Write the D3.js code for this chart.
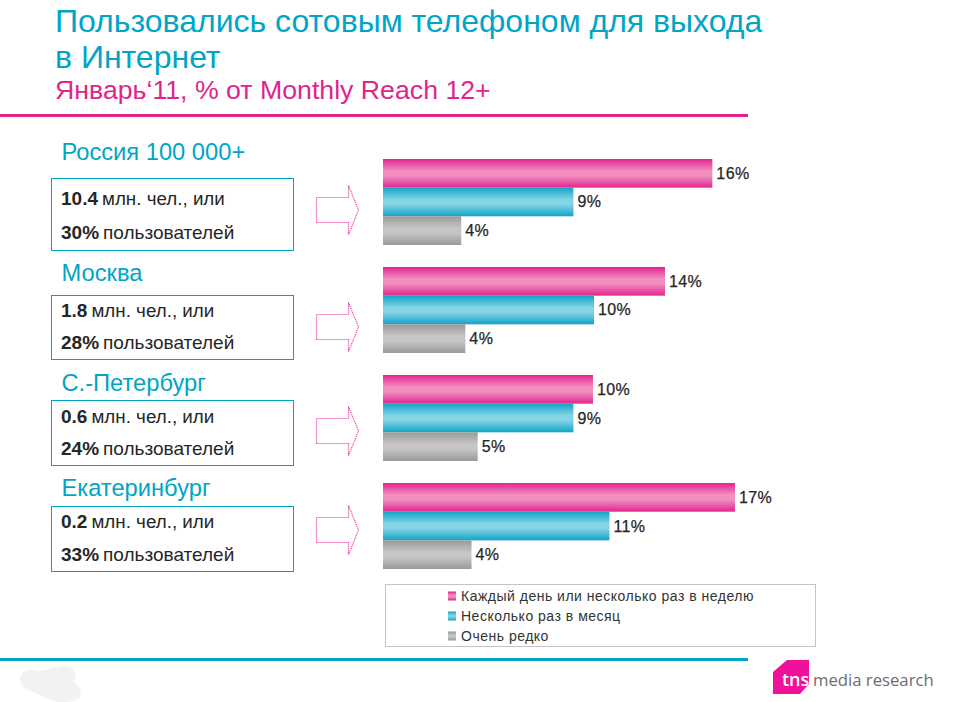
<!DOCTYPE html>
<html>
<head>
<meta charset="utf-8">
<script src="https://cdn.jsdelivr.net/npm/d3@7"></script>
<style>
  html, body { margin: 0; padding: 0; background: #fff; }
  text { font-family: "Liberation Sans", Arial, sans-serif; }
</style>
</head>
<body>
<svg id="chart" width="954" height="702"></svg>
<script>
// values
var regions = ['Россия 100 000+', 'Москва', 'С.-Петербург', 'Екатеринбург'];
var seriesNames = ['Каждый день или несколько раз в неделю', 'Несколько раз в месяц', 'Очень редко'];
var daily = [16.0, 13.7, 10.2, 17.1];
var monthly = [9.25, 10.25, 9.25, 11.0];
var rarely = [3.8, 4.0, 4.6, 4.3];
var dailyLabels = ['16%', '14%', '10%', '17%'];
var monthlyLabels = ['9%', '10%', '9%', '11%'];
var rarelyLabels = ['4%', '4%', '5%', '4%'];
var audience = ['10.4', '1.8', '0.6', '0.2'];
var audienceShare = ['30%', '28%', '24%', '33%'];

var colours = [
  { id: 'pink', dark: '#e0258e', light: '#f28fc0' },
  { id: 'blue', dark: '#12a4c8', light: '#84d4e5' },
  { id: 'grey', dark: '#999999', light: '#c6c6c6' }
];

// layout of the text panels on the left, one row per region
var titleY = [160, 281, 391, 496];
var boxTop = [178, 295, 400, 506];
var boxHeight = [72, 64, 65, 65];
var line1Y = [205, 317, 423, 528];
var line2Y = [239, 349, 455, 561];
var arrowMid = [210, 327, 431, 530];

var svg = d3.select('#chart');
var defs = svg.append('defs');

colours.forEach(function(c) {
  var g = defs.append('linearGradient')
    .attr('id', c.id)
    .attr('x1', 0).attr('y1', 0).attr('x2', 0).attr('y2', 1);
  g.append('stop').attr('offset', '0%').attr('stop-color', c.dark);
  g.append('stop').attr('offset', '42%').attr('stop-color', c.light);
  g.append('stop').attr('offset', '58%').attr('stop-color', c.light);
  g.append('stop').attr('offset', '100%').attr('stop-color', c.dark);
});

// header
var title = svg.append('g');
title.append('text').attr('x', 55).attr('y', 32)
  .attr('fill', '#00a5c6').attr('font-size', 32)
  .text('Пользовались сотовым телефоном для выхода');
title.append('text').attr('x', 55).attr('y', 68)
  .attr('fill', '#00a5c6').attr('font-size', 32)
  .text('в Интернет');
title.append('text').attr('x', 55).attr('y', 99)
  .attr('fill', '#e2238c').attr('font-size', 26.7)
  .text('Январь‘11, % от Monthly Reach 12+');

svg.append('rect').attr('x', 0).attr('y', 114).attr('width', 748).attr('height', 3).attr('fill', '#e2238c');
svg.append('rect').attr('x', 0).attr('y', 658).attr('width', 748).attr('height', 3).attr('fill', '#00a5c6');

// scales
var x = d3.scaleLinear().domain([0, 17.1]).range([383, 735]);
var y = d3.scaleBand().domain(regions).range([159, 569]).paddingInner(0.204);
var inner = d3.scaleBand().domain(seriesNames).range([0, y.bandwidth()]);

var seriesValues = [daily, monthly, rarely];
var seriesLabels = [dailyLabels, monthlyLabels, rarelyLabels];

// bars and value labels
seriesNames.forEach(function(name, s) {
  var bars = svg.append('g').attr('class', 'series');
  bars.selectAll('rect')
    .data(regions)
    .enter()
    .append('rect')
    .attr('x', x(0))
    .attr('y', function(d) { return y(d) + inner(name); })
    .attr('width', function(d, i) { return x(seriesValues[s][i]) - x(0); })
    .attr('height', inner.bandwidth())
    .attr('fill', 'url(#' + colours[s].id + ')');
  bars.selectAll('text')
    .data(regions)
    .enter()
    .append('text')
    .attr('x', function(d, i) { return x(seriesValues[s][i]) + 4; })
    .attr('y', function(d) { return y(d) + inner(name) + inner.bandwidth() / 2 + 5.5; })
    .attr('font-size', 16)
    .attr('letter-spacing', 0.4)
    .attr('fill', '#262626')
    .attr('stroke', '#262626')
    .attr('stroke-width', 0.25)
    .text(function(d, i) { return seriesLabels[s][i]; });
});

// region panels
regions.forEach(function(r, i) {
  var g = svg.append('g');
  g.append('text').attr('x', 61.5).attr('y', titleY[i])
    .attr('fill', '#00a5c6').attr('font-size', 23.7).text(r);
  g.append('rect').attr('x', 51.5).attr('y', boxTop[i] + 0.5)
    .attr('width', 242).attr('height', boxHeight[i])
    .attr('fill', '#fff').attr('stroke', '#00a5c6').attr('stroke-width', 1);

  var l1 = g.append('text').attr('x', 61).attr('y', line1Y[i])
    .attr('font-size', 18.8).attr('fill', '#262626');
  l1.append('tspan').attr('font-weight', 'bold').attr('font-size', 19).text(audience[i]);
  l1.append('tspan').attr('dx', 4).text('млн. чел., или');

  var l2 = g.append('text').attr('x', 61).attr('y', line2Y[i])
    .attr('font-size', 19).attr('fill', '#262626');
  l2.append('tspan').attr('font-weight', 'bold').text(audienceShare[i]);
  l2.append('tspan').attr('dx', 4).text('пользователей');

  // dotted arrow between the panel and the bars
  var m = arrowMid[i];
  var pts = [[316.5, m - 12.5], [348.5, m - 12.5], [348.5, m - 24.5], [358.5, m], [348.5, m + 24.5], [348.5, m + 12.5], [316.5, m + 12.5]];
  g.append('path')
    .attr('d', d3.line()(pts) + 'Z')
    .attr('fill', 'none')
    .attr('stroke', '#ec2f97')
    .attr('stroke-width', 1.2)
    .attr('stroke-dasharray', '1 1');
});

// legend
var legend = svg.append('g');
legend.append('rect').attr('x', 385.5).attr('y', 584.5).attr('width', 430).attr('height', 62)
  .attr('fill', '#fff').attr('stroke', '#c4c4c4').attr('stroke-width', 1);
var legendY = d3.scalePoint().domain(seriesNames).range([596, 636]);
seriesNames.forEach(function(name, s) {
  legend.append('rect')
    .attr('x', 448).attr('y', legendY(name) - 4.5)
    .attr('width', 8).attr('height', 9)
    .attr('fill', 'url(#' + colours[s].id + ')');
  legend.append('text')
    .attr('x', 461).attr('y', legendY(name) + 5)
    .attr('font-size', 14)
    .attr('letter-spacing', 0.5)
    .attr('fill', '#333')
    .text(name);
});

// smudge bottom left
svg.append('path')
  .attr('d', 'M20 680C20 670 30 668 38 671C50 670 60 665 68 666C76 668 78 678 73 682C81 686 83 695 78 699C68 704 52 703 44 697C34 691 21 690 20 680Z')
  .attr('fill', '#f3f1f1');

// logo
svg.append('path')
  .attr('d', 'M787 660L809 660L809 684L800 694L773 694L773 672Z')
  .attr('fill', '#f0109a');
svg.append('text').attr('x', 782).attr('y', 686)
  .style('font-family', '"Open Sans"').attr('font-weight', 600)
  .attr('font-size', 18).attr('fill', '#fff').text('tns');
svg.append('text').attr('x', 813).attr('y', 686)
  .style('font-family', '"Open Sans"')
  .attr('font-size', 16.7).attr('fill', '#6d6d6d').text('media research');
</script>
</body>
</html>
